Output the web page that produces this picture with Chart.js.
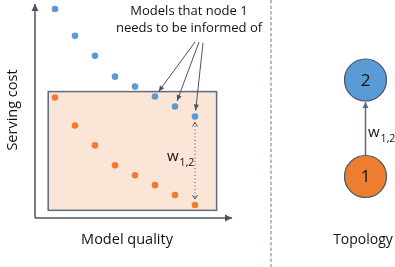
<!DOCTYPE html>
<html>
<head>
<meta charset="utf-8">
<script src="https://cdn.jsdelivr.net/npm/chart.js@4"></script>
<style>
  html, body { margin: 0; padding: 0; background: #fff; }
  #wrap { width: 395px; height: 267px; }
</style>
</head>
<body>
<div id="wrap"><canvas id="chart"></canvas></div>
<script>
// model quality index of each model
const quality = [1, 2, 3, 4, 5, 6, 7, 8];
// serving cost of the models hosted at node 2 (blue) and node 1 (orange)
const costNode2 = [21.0, 18.3, 16.3, 14.2, 13.2, 12.2, 11.2, 10.2];
const costNode1 = [12.1, 9.3, 7.3, 5.3, 4.3, 3.3, 2.3, 1.3];
// models node 1 needs to be informed of (index into the node 2 list)
const informed = [5, 6, 7];
// shaded region around node 1's models
const boxQuality = [0.66, 9.08];
const boxCost = [0.77, 12.7];

const BLUE = '#5b9bd5';
const ORANGE = '#ed7d31';
const AXIS = '#44546a';
const FONT = '"Open Sans", "Liberation Sans", sans-serif';

function arrowHead(ctx, x, y, angle, len, wid, filled) {
    ctx.save();
    ctx.translate(x, y);
    ctx.rotate(angle);
    ctx.beginPath();
    ctx.moveTo(0, 0);
    ctx.lineTo(-len, -wid);
    if (filled) {
        ctx.lineTo(-len, wid);
        ctx.closePath();
        ctx.fill();
    } else {
        ctx.moveTo(0, 0);
        ctx.lineTo(-len, wid);
        ctx.stroke();
    }
    ctx.restore();
}

function arrow(ctx, x1, y1, x2, y2, len, wid) {
    ctx.beginPath();
    ctx.moveTo(x1, y1);
    ctx.lineTo(x2, y2);
    ctx.stroke();
    arrowHead(ctx, x2, y2, Math.atan2(y2 - y1, x2 - x1), len, wid, true);
}

function wLabel(ctx, x, y) {
    ctx.textAlign = 'left';
    ctx.textBaseline = 'alphabetic';
    ctx.font = '15px ' + FONT;
    ctx.fillText('w', x, y);
    const w = ctx.measureText('w').width;
    ctx.font = '10.5px ' + FONT;
    ctx.fillText('1,2', x + w + 1, y + 5);
}

const boxPlugin = {
    id: 'box',
    beforeDatasetsDraw(chart) {
        const ctx = chart.ctx;
        const xs = chart.scales.x, ys = chart.scales.y;
        const x0 = xs.getPixelForValue(boxQuality[0]);
        const x1 = xs.getPixelForValue(boxQuality[1]);
        const y0 = ys.getPixelForValue(boxCost[1]);
        const y1 = ys.getPixelForValue(boxCost[0]);
        ctx.save();
        ctx.fillStyle = '#fbe5d6';
        ctx.fillRect(x0, y0, x1 - x0, y1 - y0);
        ctx.strokeStyle = '#5f6b7b';
        ctx.lineWidth = 1.5;
        ctx.strokeRect(x0, y0, x1 - x0, y1 - y0);
        ctx.restore();
    }
};

const decorPlugin = {
    id: 'decor',
    afterDraw(chart) {
        const ctx = chart.ctx;
        const area = chart.chartArea;
        const xs = chart.scales.x, ys = chart.scales.y;
        ctx.save();

        // axes with arrow heads
        ctx.strokeStyle = AXIS;
        ctx.fillStyle = AXIS;
        ctx.lineWidth = 1.5;
        arrow(ctx, area.left, area.bottom, area.left, area.top, 7, 3.5);
        arrow(ctx, area.left, area.bottom, area.right, area.bottom, 7, 3.5);

        // axis titles
        ctx.fillStyle = '#111';
        ctx.font = '14.5px ' + FONT;
        ctx.textAlign = 'center';
        ctx.textBaseline = 'middle';
        ctx.fillText('Model quality', 127, 240);
        ctx.save();
        ctx.translate(13, 110);
        ctx.rotate(-Math.PI / 2);
        ctx.fillText('Serving cost', 0, 0);
        ctx.restore();

        // annotation
        ctx.font = '13px ' + FONT;
        ctx.fillText('Models that node 1', 189, 11);
        ctx.fillText('needs to be informed of', 189, 28);

        ctx.strokeStyle = '#44546a';
        ctx.fillStyle = '#44546a';
        ctx.lineWidth = 1;
        const starts = [[195, 42], [199, 42], [203, 43]];
        informed.forEach((i, k) => {
            const px = xs.getPixelForValue(quality[i]);
            const py = ys.getPixelForValue(costNode2[i]);
            const sx = starts[k][0], sy = starts[k][1];
            const d = Math.hypot(px - sx, py - sy);
            const ex = px + (sx - px) / d * 6;
            const ey = py + (sy - py) / d * 6;
            arrow(ctx, sx, sy, ex, ey, 6, 2.5);
        });

        // dotted double arrow between the two last models
        const last = quality.length - 1;
        const dx = xs.getPixelForValue(quality[last]);
        const dTop = ys.getPixelForValue(costNode2[last]) + 6;
        const dBot = ys.getPixelForValue(costNode1[last]) - 6;
        ctx.setLineDash([1, 2.5]);
        ctx.beginPath();
        ctx.moveTo(dx, dTop);
        ctx.lineTo(dx, dBot);
        ctx.stroke();
        ctx.setLineDash([]);
        arrowHead(ctx, dx, dTop, -Math.PI / 2, 4, 2.5, false);
        arrowHead(ctx, dx, dBot, Math.PI / 2, 4, 2.5, false);
        ctx.fillStyle = '#111';
        wLabel(ctx, 167, 161);

        // separator
        ctx.strokeStyle = '#8c9bab';
        ctx.lineWidth = 1.3;
        ctx.setLineDash([3.5, 2]);
        ctx.beginPath();
        ctx.moveTo(271, 0);
        ctx.lineTo(271, 267);
        ctx.stroke();
        ctx.setLineDash([]);

        // topology
        const nx = 365.5, n2y = 80, n1y = 176.5, r = 21;
        ctx.strokeStyle = '#5a6a80';
        ctx.fillStyle = '#5a6a80';
        ctx.lineWidth = 1.5;
        arrow(ctx, nx, n1y - r, nx, n2y + r + 1, 6, 3);
        [[n2y, BLUE, '2'], [n1y, ORANGE, '1']].forEach(([cy, col, lab]) => {
            ctx.beginPath();
            ctx.arc(nx, cy, r, 0, Math.PI * 2);
            ctx.fillStyle = col;
            ctx.fill();
            ctx.strokeStyle = '#41536b';
            ctx.lineWidth = 1.2;
            ctx.stroke();
            ctx.fillStyle = '#111';
            ctx.font = '17px ' + FONT;
            ctx.textAlign = 'center';
            ctx.textBaseline = 'middle';
            ctx.fillText(lab, nx, cy + 1);
        });
        ctx.fillStyle = '#111';
        wLabel(ctx, 368, 137);
        ctx.font = '14px ' + FONT;
        ctx.textAlign = 'center';
        ctx.textBaseline = 'middle';
        ctx.fillText('Topology', 363, 240);

        ctx.restore();
    }
};

new Chart(document.getElementById('chart'), {
    type: 'scatter',
    data: {
        datasets: [{
            label: 'Node 2 models',
            data: quality.map((q, i) => ({ x: q, y: costNode2[i] })),
            backgroundColor: BLUE,
            borderWidth: 0,
            pointRadius: 3.3
        }, {
            label: 'Node 1 models',
            data: quality.map((q, i) => ({ x: q, y: costNode1[i] })),
            backgroundColor: ORANGE,
            borderWidth: 0,
            pointRadius: 3.3
        }]
    },
    options: {
        responsive: true,
        maintainAspectRatio: false,
        animation: false,
        layout: { padding: { left: 35, top: 3, right: 163, bottom: 49 } },
        scales: {
            x: { type: 'linear', display: false, min: 0, max: 9.85 },
            y: { type: 'linear', display: false, min: 0, max: 21.5 }
        },
        plugins: {
            legend: { display: false },
            tooltip: { enabled: false }
        }
    },
    plugins: [boxPlugin, decorPlugin]
});
</script>
</body>
</html>
